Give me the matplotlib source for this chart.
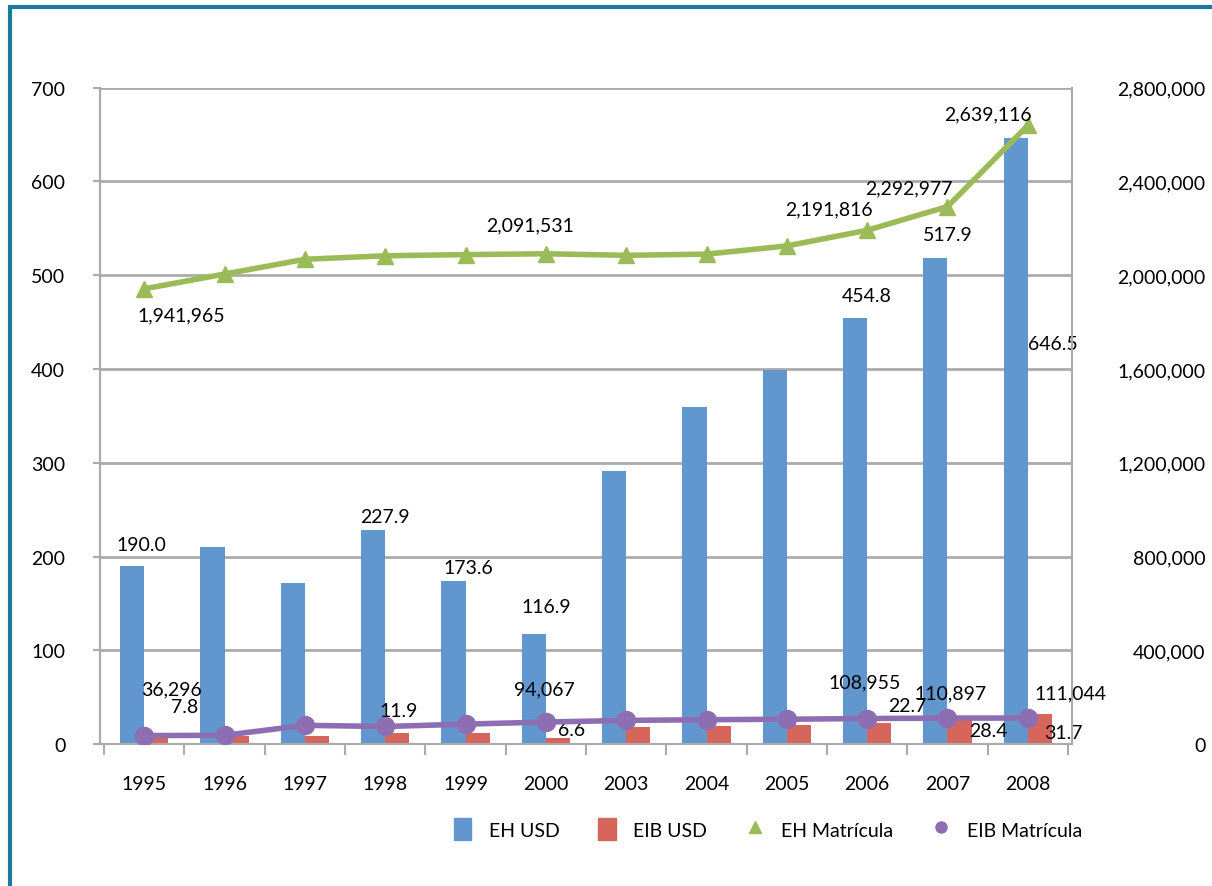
import matplotlib
matplotlib.use("Agg")
import matplotlib.pyplot as plt
import numpy as np
from matplotlib.patches import Rectangle, Patch
from matplotlib.lines import Line2D
from matplotlib.ticker import FuncFormatter

plt.rcParams['font.family'] = ['Lato', 'DejaVu Sans']

# data
years = ['1995', '1996', '1997', '1998', '1999', '2000',
         '2003', '2004', '2005', '2006', '2007', '2008']
eh_usd = [190.0, 210.0, 172.0, 227.9, 173.6, 116.9,
          291.0, 359.0, 399.0, 454.8, 517.9, 646.5]
eib_usd = [7.8, 9.0, 8.5, 11.9, 12.0, 6.6,
           18.5, 19.0, 20.5, 22.7, 28.4, 31.7]
eh_mat = [1941965, 2005000, 2068000, 2083000, 2088000, 2091531,
          2085000, 2090000, 2125000, 2191816, 2292977, 2639116]
eib_mat = [36296, 37500, 80000, 75000, 85000, 94067,
           101000, 104000, 106000, 108955, 110897, 111044]

# which points carry a value label, with (dx, dy) pixel offsets
eh_usd_lbl = {0: (9, 21), 3: (12, 14), 4: (15, 14), 5: (12, 28),
              9: (12, 22), 10: (12, 24), 11: (37, -206)}
eib_usd_lbl = {0: (28, 30), 3: (1, 22), 5: (14, 8), 9: (28, 17),
               10: (29, -13), 11: (23, -18)}
eh_mat_lbl = {0: (37, -26), 5: (-16, 29), 9: (-38, 21), 10: (-39, 19),
              11: (-40, 12)}
eib_mat_lbl = {0: (27, 47), 5: (-1, 33), 9: (-3, 37), 10: (3, 25),
               11: (43, 25)}

c_blue = '#6196CF'
c_red = '#D6665C'
c_green = '#9BBB59'
c_purple = '#8E6EB3'
c_grid = '#ABABAB'
fs = 14

fig = plt.figure(figsize=(12.12, 8.87), dpi=100)
ax = fig.add_axes([0.0825, 0.160, 0.802, 0.740])
ax2 = ax.twinx()

x = np.arange(len(years))
w = 0.3
ax.bar(x - w / 2, eh_usd, w, color=c_blue, zorder=2)
ax.bar(x + w / 2, eib_usd, w, color=c_red, zorder=2)

ax2.plot(x, eh_mat, color=c_green, lw=4, marker='^', ms=11, zorder=3)
ax2.plot(x, eib_mat, color=c_purple, lw=4, marker='o', ms=13, zorder=3)

ax.set_xlim(-0.55, len(years) - 0.45)
ax.set_ylim(0, 700)
ax2.set_ylim(0, 2800000)
ax.set_yticks(np.arange(0, 701, 100))
ax2.set_yticks(np.arange(0, 2800001, 400000))
ax2.yaxis.set_major_formatter(FuncFormatter(lambda v, p: f'{int(v):,}'))

ax.yaxis.grid(True, color=c_grid, lw=2)
ax.set_axisbelow(True)

for a in (ax, ax2):
    for s in a.spines.values():
        s.set_color(c_grid)
        s.set_linewidth(1.5)
ax.spines['top'].set_visible(False)
ax2.spines['top'].set_visible(False)

ax.set_xticks(x)
ax.set_xticklabels(years)
ax.set_xticks(np.arange(-0.5, len(years), 1), minor=True)
ax.tick_params(axis='x', which='major', length=0, pad=22, labelsize=fs)
ax.tick_params(axis='x', which='minor', length=8, width=1.5, color=c_grid)
ax.tick_params(axis='y', length=5, width=1.5, color=c_grid, pad=20,
               labelsize=fs)
ax2.tick_params(axis='y', length=0, pad=96, labelsize=fs)
for t in ax2.get_yticklabels():
    t.set_horizontalalignment('right')


def put(axis, xs, ys, offs):
    for i, (dx, dy) in offs.items():
        v = ys[i]
        txt = f'{v:,}' if isinstance(v, int) else f'{v:.1f}'
        axis.annotate(txt, (xs[i], v), xytext=(dx, dy),
                      textcoords='offset pixels', ha='center', va='center',
                      fontsize=fs, zorder=5)


put(ax, x - w / 2, eh_usd, eh_usd_lbl)
put(ax, x + w / 2, eib_usd, eib_usd_lbl)
put(ax2, x, eh_mat, eh_mat_lbl)
put(ax2, x, eib_mat, eib_mat_lbl)

handles = [Patch(color=c_blue), Patch(color=c_red),
           Line2D([], [], ls='none', marker='^', ms=8, color=c_green),
           Line2D([], [], ls='none', marker='o', ms=8, color=c_purple)]
labels = ['EH USD', 'EIB USD', 'EH Matrícula', 'EIB Matrícula']
fig.legend(handles, labels, loc='center', ncol=4,
           bbox_to_anchor=(768 / 1212, 1 - 830 / 887), frameon=False,
           fontsize=fs, handlelength=0.9, handleheight=1.3,
           columnspacing=2.0, handletextpad=0.9)

# outer teal frame (right and bottom fall outside the picture)
fig.patches.append(Rectangle((10 / 1212, -0.1), 1.2, 1 - 8 / 887 + 0.1,
                             transform=fig.transFigure, fill=False,
                             edgecolor='#1B7A9C', lw=3))

fig.savefig('out.png', dpi=100)
